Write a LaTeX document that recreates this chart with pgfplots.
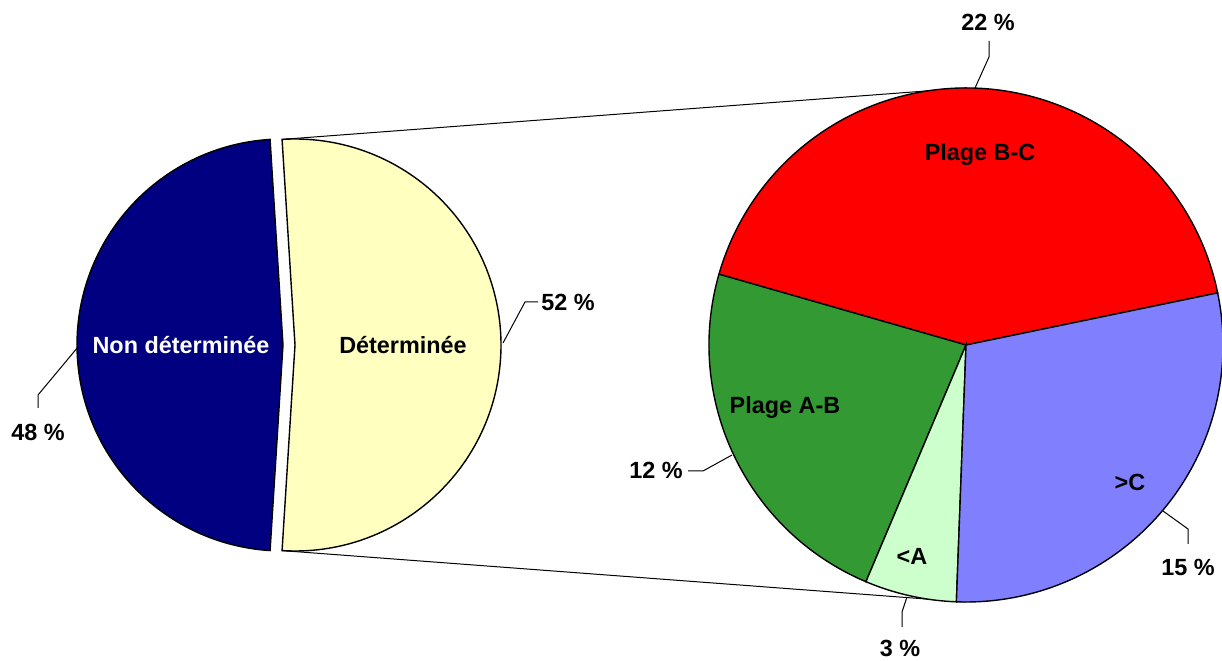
\documentclass[border=0pt]{standalone}
\usepackage{fontspec}
\setmainfont{Liberation Sans}
\usepackage{pgfplots}
\usepackage{pgfplotstable}
\pgfplotsset{compat=1.18}

\definecolor{cNavy}{RGB}{0,0,128}
\definecolor{cYellow}{RGB}{255,255,192}
\definecolor{cRed}{RGB}{255,0,0}
\definecolor{cGreen}{RGB}{51,153,51}
\definecolor{cLight}{RGB}{204,255,204}
\definecolor{cBlue}{RGB}{128,128,255}

% first pie: share of the whole (%)
\pgfplotstableread{
label value
{Non déterminée} 48
{Déterminée} 52
}\leftdata
% second pie: split of "Déterminée" (% of the whole)
\pgfplotstableread{
label value
{Plage B-C} 22
{Plage A-B} 12
{<A} 3
{>C} 15
}\rightdata

\begin{document}
\begin{tikzpicture}[font=\fontsize{11.7bp}{14bp}\selectfont\bfseries]
% angles of the first pie
\pgfplotstablegetelem{0}{value}\of\leftdata \let\lA\pgfplotsretval
\pgfplotstablegetelem{1}{value}\of\leftdata \let\lB\pgfplotsretval
\pgfmathsetmacro\lsA{180-180*\lA/(\lA+\lB)}
\pgfmathsetmacro\lsB{180+180*\lA/(\lA+\lB)}
\pgfmathsetmacro\lsC{\lsB-360}
% angles of the second pie
\pgfplotstablegetelem{0}{value}\of\rightdata \let\rA\pgfplotsretval
\pgfplotstablegetelem{1}{value}\of\rightdata \let\rB\pgfplotsretval
\pgfplotstablegetelem{2}{value}\of\rightdata \let\rC\pgfplotsretval
\pgfplotstablegetelem{3}{value}\of\rightdata \let\rD\pgfplotsretval
\pgfmathsetmacro\rT{\rA+\rB+\rC+\rD}
\pgfmathsetmacro\aA{11.7}
\pgfmathsetmacro\aB{\aA+360*\rA/\rT}
\pgfmathsetmacro\aC{\aB+360*\rB/\rT}
\pgfmathsetmacro\aD{\aC+360*\rC/\rT}
\pgfmathsetmacro\aE{\aD+360*\rD/\rT}
\begin{axis}[
  name=ax,
  x=0.5bp, y=0.5bp,
  xmin=0, xmax=1222, ymin=0, ymax=660,
  axis line style={draw=none},
  xtick=\empty, ytick=\empty,
  tick style={draw=none},
]
% connector lines
\addplot[black, line width=0.5bp, mark=none] coordinates {(282,520.6) (966,572)};
\addplot[black, line width=0.5bp, mark=none] coordinates {(282,109.4) (966,58)};
% first pie
\fill[cNavy, draw=black, line width=0.7bp] (axis cs:283,315) -- ++(\lsA:103bp)
  arc[start angle=\lsA, end angle=\lsB, radius=103bp] -- cycle;
\fill[cYellow, draw=black, line width=0.7bp] (axis cs:295,315) -- ++(\lsC:103bp)
  arc[start angle=\lsC, end angle=\lsA, radius=103bp] -- cycle;
% second pie
\fill[cRed, draw=black, line width=0.7bp] (axis cs:966,315) -- ++(\aA:128.5bp)
  arc[start angle=\aA, end angle=\aB, radius=128.5bp] -- cycle;
\fill[cGreen, draw=black, line width=0.7bp] (axis cs:966,315) -- ++(\aB:128.5bp)
  arc[start angle=\aB, end angle=\aC, radius=128.5bp] -- cycle;
\fill[cLight, draw=black, line width=0.7bp] (axis cs:966,315) -- ++(\aC:128.5bp)
  arc[start angle=\aC, end angle=\aD, radius=128.5bp] -- cycle;
\fill[cBlue, draw=black, line width=0.7bp] (axis cs:966,315) -- ++(\aD:128.5bp)
  arc[start angle=\aD, end angle=\aE, radius=128.5bp] -- cycle;
% leader lines
\addplot[black, line width=0.5bp, mark=none] coordinates {(78,313) (38,265) (38,252)};
\addplot[black, line width=0.5bp, mark=none] coordinates {(503,317) (525,358) (538,358)};
\addplot[black, line width=0.5bp, mark=none] coordinates {(975,572) (989,603) (989,619)};
\addplot[black, line width=0.5bp, mark=none] coordinates {(732,205) (703,189) (688,189)};
\addplot[black, line width=0.5bp, mark=none] coordinates {(907,63) (902,48) (902,33)};
\addplot[black, line width=0.5bp, mark=none] coordinates {(1163,149) (1188,131) (1188,116)};
% labels
\node[white] at (axis cs:181,315) {Non déterminée};
\node at (axis cs:403,315) {Déterminée};
\node at (axis cs:38,228) {48 \%};
\node at (axis cs:568,358) {52 \%};
\node at (axis cs:988,638) {22 \%};
\node at (axis cs:980,505) {Plage B-C};
\node at (axis cs:785,252) {Plage A-B};
\node at (axis cs:656,190) {12 \%};
\node at (axis cs:912,104) {<A};
\node at (axis cs:1130,178) {>C};
\node at (axis cs:1188,93) {15 \%};
\node at (axis cs:900,12) {3 \%};
\end{axis}
\pgfresetboundingbox
\path[use as bounding box] (ax.south west) rectangle (ax.north east);
\end{tikzpicture}
\end{document}
